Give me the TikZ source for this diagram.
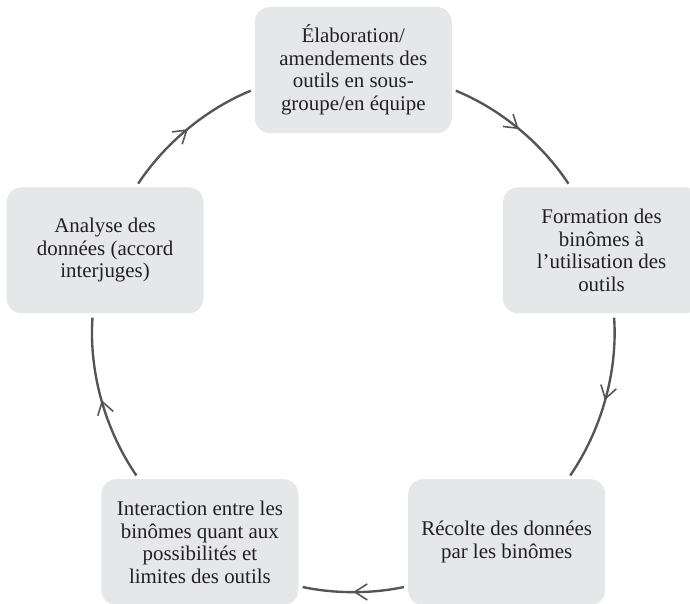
\documentclass[tikz,border=0pt]{standalone}
\usepackage{fontspec}
\setmainfont{Liberation Serif}
\usetikzlibrary{arrows.meta,decorations.markings}

\definecolor{boxgray}{HTML}{E6E7E8}
\definecolor{linegray}{HTML}{555555}
\definecolor{textdark}{HTML}{231F20}

\tikzset{
  etape/.style={fill=boxgray,rounded corners=0.3cm,minimum width=3.94cm,
    minimum height=2.52cm,inner sep=0pt,align=center,text=textdark,
    font=\fontsize{11.9}{12.8}\selectfont},
  fleche/.style={draw,color=linegray,line width=1.35pt,
    shorten >=0.08cm,shorten <=0.08cm,postaction={decorate},
    decoration={markings,mark=at position 0.5 with
      {\arrow[line width=0.9pt]{Straight Barb[length=2.5mm,width=3.2mm]}}}}
}

\begin{document}
\begin{tikzpicture}
            \useasboundingbox (-7.066,-5.44) rectangle (6.734,6.62);

            \node[etape] (s1) at (90:5.22){Élaboration/\\amendements des\\outils en sous-\\groupe/en équipe};
            \node[etape] (s2) at (18:5.22){Formation des\\binômes à\\l’utilisation des\\outils};
            \node[etape] (s3) at (-54:5.22){Récolte des données\\par les binômes};
            \node[etape] (s4) at (-126:5.22){Interaction entre les\\binômes quant aux\\possibilités et\\limites des outils};
            \node[etape] (s5) at (162:5.22){Analyse des\\données (accord\\interjuges)};

            \draw[fleche] (s5.64) to[out=56.6,in=202.2,looseness=0.871] (s1.191);
            \draw[fleche] (s1.349) to[out=-22.2,in=123.4,looseness=0.871] (s2.116);
            \draw[fleche] (s2.-79) to[out=-86.1,in=55.4,looseness=0.876] (s3.46);
            \draw[fleche] (s3.-156) to[out=192.1,in=-12.1,looseness=0.861] (s4.-24);
            \draw[fleche] (s4.134) to[out=124.6,in=266.1,looseness=0.876] (s5.-101);
\end{tikzpicture}
\end{document}
